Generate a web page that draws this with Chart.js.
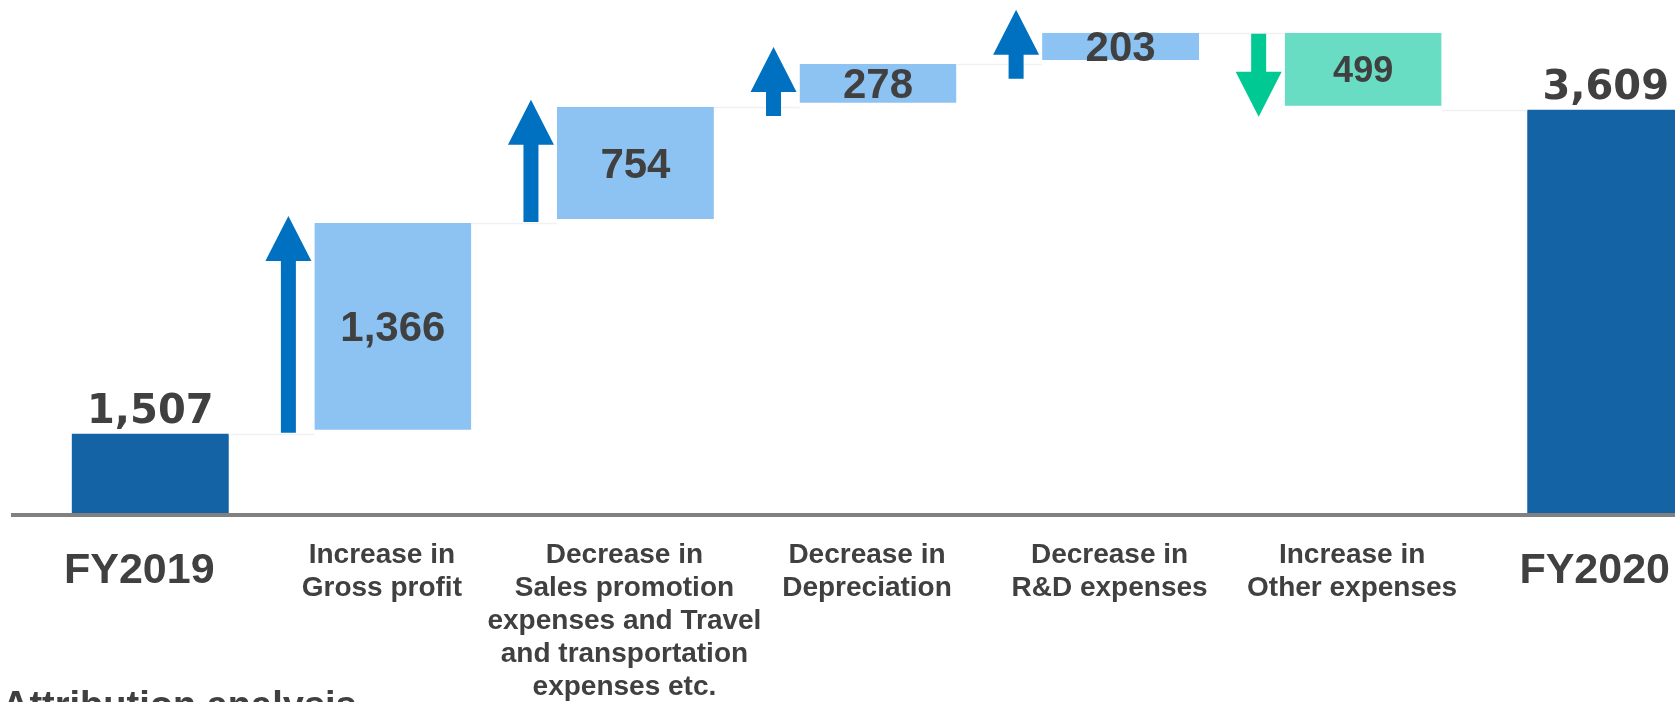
<!DOCTYPE html>
<html><head><meta charset="utf-8">
<script src="https://cdn.jsdelivr.net/npm/chart.js@4"></script>
<style>
html,body{margin:0;padding:0;background:#fff;overflow:hidden;width:1675px;height:702px;}
#wrap{position:absolute;left:0;top:0;width:1760px;height:702px;}
#note{position:absolute;left:2px;top:686px;font:bold 38px "Liberation Sans",Arial,sans-serif;color:#404040;line-height:38px;white-space:nowrap;}
</style></head><body>
<div id="wrap"><canvas id="c" width="1760" height="702"></canvas></div>
<div id="note">Attribution analysis</div>
<script>
// ---- data ----
const categories = [
  ["FY2019"],
  ["Increase in", "Gross profit"],
  ["Decrease in", "Sales promotion", "expenses and Travel", "and transportation", "expenses etc."],
  ["Decrease in", "Depreciation"],
  ["Decrease in", "R&D expenses"],
  ["Increase in", "Other expenses"],
  ["FY2020"]
];
const values = [1507, 1366, 754, 278, 203, -499, 3609];
const kinds = ["total", "delta", "delta", "delta", "delta", "delta", "total"];

// ---- styling ----
const FONT = '"Liberation Sans", Arial, sans-serif';
const TEXT = '#404040';
const COLORS = { total: '#1464A5', up: '#8CC3F2', down: '#69DDC4' };
const ARROW = { up: '#0070C0', down: '#00C994' };

// waterfall ranges built from the values
let run = 0;
const ranges = values.map((v, i) => {
  if (kinds[i] === 'total') { run = v; return [0, v]; }
  const s = run; run += v; return [s, run];
});
const barColors = values.map((v, i) => kinds[i] === 'total' ? COLORS.total : (v >= 0 ? COLORS.up : COLORS.down));

const fmt = v => Math.abs(v).toLocaleString('en-US');

const decoPlugin = {
  id: 'deco',
  afterDatasetsDraw(chart) {
    const ctx = chart.ctx;
    const y = chart.scales.y;
    const meta = chart.getDatasetMeta(0);
    const area = chart.chartArea;
    ctx.save();
    // faint connectors
    ctx.strokeStyle = '#f1f1f1';
    ctx.lineWidth = 1.5;
    for (let i = 0; i < ranges.length - 1; i++) {
      const b = meta.data[i], n = meta.data[i + 1];
      const py = Math.round(y.getPixelForValue(ranges[i][1])) + 0.5;
      ctx.beginPath();
      ctx.moveTo(b.x + b.width / 2, py);
      ctx.lineTo(n.x - n.width / 2, py);
      ctx.stroke();
    }
    // axis line
    ctx.fillStyle = '#808080';
    ctx.fillRect(11, area.bottom - 2, chart.width - 11, 4);
    // arrows
    for (let i = 0; i < ranges.length; i++) {
      if (kinds[i] !== 'delta') continue;
      const b = meta.data[i];
      const ys = y.getPixelForValue(ranges[i][0]);
      const ye = y.getPixelForValue(ranges[i][1]);
      const up = values[i] >= 0;
      const dir = up ? -1 : 1;
      const L = Math.max(Math.abs(ye - ys) + 6, 69);
      const mid = (ys + ye) / 2 + dir * 4;
      const tip = mid + dir * L / 2, tail = mid - dir * L / 2;
      const hb = tip - dir * 45;
      const cx = b.x - b.width / 2 - 26;
      ctx.fillStyle = up ? ARROW.up : ARROW.down;
      ctx.beginPath();
      ctx.moveTo(cx - 7.5, tail);
      ctx.lineTo(cx - 7.5, hb);
      ctx.lineTo(cx - 23, hb);
      ctx.lineTo(cx, tip);
      ctx.lineTo(cx + 23, hb);
      ctx.lineTo(cx + 7.5, hb);
      ctx.lineTo(cx + 7.5, tail);
      ctx.closePath();
      ctx.fill();
    }
    // value labels
    ctx.fillStyle = TEXT;
    ctx.textAlign = 'center';
    ctx.textBaseline = 'alphabetic';
    for (let i = 0; i < ranges.length; i++) {
      const b = meta.data[i];
      if (kinds[i] === 'total') {
        ctx.font = 'bold 40px "DejaVu Sans", Verdana, sans-serif';
        ctx.fillText(fmt(values[i]), b.x, y.getPixelForValue(ranges[i][1]) - 11);
      } else {
        const size = values[i] >= 0 ? 42 : 36;
        ctx.font = 'bold ' + size + 'px ' + FONT;
        const top = Math.min(b.y, b.base), bot = Math.max(b.y, b.base) - 4;
        const m = (top + bot) / 2;
        ctx.fillText(fmt(values[i]), b.x, m + 0.358 * size);
      }
    }
    ctx.restore();
  }
};

new Chart(document.getElementById('c'), {
  type: 'bar',
  data: {
    labels: categories,
    datasets: [{
      data: ranges,
      backgroundColor: barColors,
      borderColor: '#ffffff',
      borderWidth: ctx => kinds[ctx.dataIndex] === 'delta' ? { top: 0, left: 0, right: 0, bottom: 4 } : 0,
      borderSkipped: false,
      barPercentage: 0.647,
      categoryPercentage: 1,
      clip: 0
    }]
  },
  options: {
    responsive: false,
    animation: false,
    layout: { padding: { left: 29, right: 33, top: 0, bottom: 0 } },
    plugins: { legend: { display: false }, tooltip: { enabled: false }, title: { display: false } },
    scales: {
      x: {
        grid: { display: false },
        border: { display: false },
        ticks: {
          autoSkip: false, maxRotation: 0, minRotation: 0,
          padding: 16, labelOffset: -11, color: TEXT,
          font: ctx => kinds[ctx.index] === 'total'
            ? { family: FONT, size: 43, weight: 'bold', lineHeight: 1.5 }
            : { family: FONT, size: 28, weight: 'bold', lineHeight: 1.18 }
        },
        afterFit: scale => { scale.height = 187; }
      },
      y: { display: false, min: 980, max: 4320 }
    }
  },
  plugins: [decoPlugin]
});
</script>
</body></html>
